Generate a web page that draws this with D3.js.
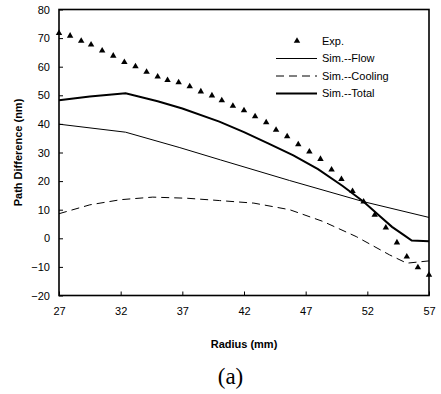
<!DOCTYPE html>
<html>
<head>
<meta charset="utf-8">
<script src="https://cdn.jsdelivr.net/npm/d3@7"></script>
<style>
  html, body { margin: 0; padding: 0; background: #fff; }
  svg { display: block; }
  text { font-family: "Liberation Sans", Arial, sans-serif; fill: #000; }
</style>
</head>
<body>
<svg id="chart" width="441" height="394"></svg>
<script>
// Measured path difference along the radius
const expRadius = [27.0, 27.9, 28.8, 29.6, 30.5, 31.4, 32.3, 33.2, 34.1, 35.0, 35.8, 36.7,
  37.6, 38.5, 39.4, 40.2, 41.1, 42.0, 42.9, 43.8, 44.6, 45.5, 46.4, 47.3, 48.2, 49.1,
  49.9, 50.8, 51.7, 52.6, 53.5, 54.4, 55.2, 56.1, 57.0];
const expValues = [71.7, 70.8, 69.0, 67.7, 65.6, 63.8, 61.6, 60.1, 58.2, 56.5, 55.3, 54.5,
  53.1, 51.3, 49.9, 48.2, 46.3, 44.7, 42.6, 40.5, 37.9, 35.6, 32.8, 30.3, 27.7, 24.0,
  20.7, 16.5, 12.8, 8.2, 3.7, -1.5, -6.4, -10.2, -12.8];

// Simulated contributions
const flowRadius = [27, 32.4, 36.8, 40.1, 45.7, 51.7, 57];
const flowValues = [39.9, 37.1, 31.7, 27.4, 20.2, 12.8, 7.3];

const coolingRadius = [27, 29.5, 32, 34.6, 37.4, 40, 42.8, 45.7, 48.4, 51.1, 53.8, 55.2, 57];
const coolingValues = [8.6, 11.7, 13.5, 14.4, 14.0, 13.2, 12.3, 10.0, 5.9, 0.6, -5.8, -8.7, -7.9];

const totalRadius = [27, 29.5, 32.4, 35, 37, 40, 42, 44, 46, 48, 50, 51.7, 53, 54, 55, 55.6, 57];
const totalValues = [48.3, 49.6, 50.7, 47.9, 45.4, 40.8, 37.1, 33.1, 29.0, 24.2, 18.3, 12.8, 7.8, 4.0, 1.0, -0.8, -1.0];

const xTicks = [27, 32, 37, 42, 47, 52, 57];
const yTicks = [-20, -10, 0, 10, 20, 30, 40, 50, 60, 70, 80];

const legendLabels = ["Exp.", "Sim.--Flow", "Sim.--Cooling", "Sim.--Total"];

const svg = d3.select("#chart");
const plot = { left: 59, top: 9.5, right: 429, bottom: 295.5 };

const x = d3.scaleLinear().domain([27, 57]).range([plot.left, plot.right]);
const y = d3.scaleLinear().domain([-20, 80]).range([plot.bottom, plot.top]);

// Axes with ticks pointing into the plot
const xAxis = d3.axisBottom(x).tickValues(xTicks).tickSizeInner(-4).tickSizeOuter(0).tickPadding(12);
const yAxis = d3.axisLeft(y).tickValues(yTicks).tickSizeInner(-4).tickSizeOuter(0).tickPadding(9);

const gx = svg.append("g").attr("transform", `translate(0,${plot.bottom})`).call(xAxis);
const gy = svg.append("g").attr("transform", `translate(${plot.left},0)`).call(yAxis);
[gx, gy].forEach(g => {
  g.select(".domain").remove();
  g.selectAll(".tick line").attr("stroke", "#000").attr("stroke-width", 1);
  g.selectAll(".tick text").attr("font-size", 11).attr("fill", "#000");
});

// Frame
svg.append("rect")
  .attr("x", plot.left).attr("y", plot.top)
  .attr("width", plot.right - plot.left).attr("height", plot.bottom - plot.top)
  .attr("fill", "none").attr("stroke", "#000").attr("stroke-width", 1.6);

const line = d3.line().x(d => x(d[0])).y(d => y(d[1]));

svg.append("path")
  .datum(d3.zip(flowRadius, flowValues))
  .attr("d", line).attr("fill", "none").attr("stroke", "#000").attr("stroke-width", 1);

svg.append("path")
  .datum(d3.zip(coolingRadius, coolingValues))
  .attr("d", line).attr("fill", "none").attr("stroke", "#000").attr("stroke-width", 1)
  .attr("stroke-dasharray", "8,5");

svg.append("path")
  .datum(d3.zip(totalRadius, totalValues))
  .attr("d", line).attr("fill", "none").attr("stroke", "#000").attr("stroke-width", 2);

const tri = d3.symbol().type(d3.symbolTriangle).size(18);
svg.append("g").selectAll("path")
  .data(d3.zip(expRadius, expValues))
  .join("path")
  .attr("d", tri)
  .attr("transform", d => `translate(${x(d[0])},${y(d[1])})`)
  .attr("fill", "#000");

// Legend
const legend = svg.append("g");
const rowsY = [41, 58.5, 76, 93.5];
const lx0 = 276, lx1 = 317, tx = 322;
legend.append("path").attr("d", tri).attr("transform", `translate(297,${rowsY[0]})`).attr("fill", "#000");
legend.append("line").attr("x1", lx0).attr("x2", lx1).attr("y1", rowsY[1]).attr("y2", rowsY[1])
  .attr("stroke", "#000").attr("stroke-width", 1);
legend.append("line").attr("x1", lx0).attr("x2", lx1).attr("y1", rowsY[2]).attr("y2", rowsY[2])
  .attr("stroke", "#000").attr("stroke-width", 1).attr("stroke-dasharray", "8,5");
legend.append("line").attr("x1", lx0).attr("x2", lx1).attr("y1", rowsY[3]).attr("y2", rowsY[3])
  .attr("stroke", "#000").attr("stroke-width", 2);
legend.selectAll("text").data(legendLabels).join("text")
  .attr("x", tx).attr("y", (d, i) => rowsY[i]).attr("dy", "0.35em")
  .attr("font-size", 11).text(d => d);

// Axis titles
svg.append("text")
  .attr("x", 244).attr("y", 348).attr("text-anchor", "middle")
  .attr("font-size", 11).attr("font-weight", "bold").text("Radius (mm)");
svg.append("text")
  .attr("transform", `translate(22,${(plot.top + plot.bottom) / 2}) rotate(-90)`)
  .attr("text-anchor", "middle")
  .attr("font-size", 11).attr("font-weight", "bold").text("Path Difference (nm)");

// Panel label
svg.append("text")
  .attr("x", 230.5).attr("y", 384).attr("text-anchor", "middle")
  .attr("font-size", 23).style("font-family", "'Liberation Serif', 'Times New Roman', serif")
  .text("(a)");
</script>
</body>
</html>
